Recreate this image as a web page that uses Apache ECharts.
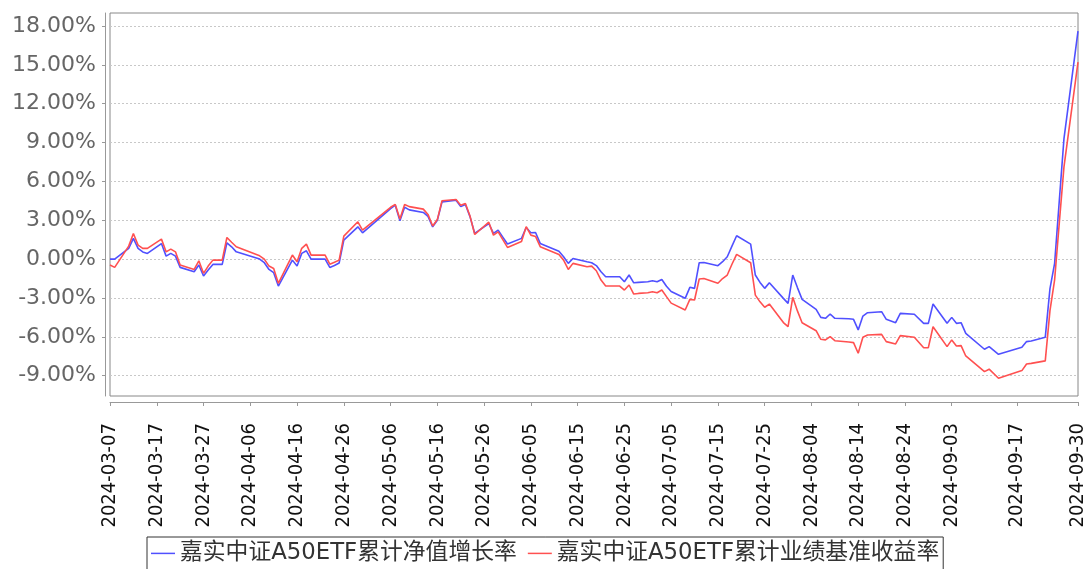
<!DOCTYPE html>
<html>
<head>
<meta charset="utf-8">
<script src="https://cdn.jsdelivr.net/npm/echarts@6/dist/echarts.min.js"></script>
<style>
  html, body { margin: 0; padding: 0; background: #fff; }
  #chart { width: 1088px; height: 569px; }
</style>
</head>
<body>
<div id="chart"></div>
<script>
// trading dates (plus quarter/half-year end)
var dates = [
  '2024-03-07','2024-03-08','2024-03-11','2024-03-12','2024-03-13','2024-03-14','2024-03-15',
  '2024-03-18','2024-03-19','2024-03-20','2024-03-21','2024-03-22','2024-03-25','2024-03-26',
  '2024-03-27','2024-03-28','2024-03-29','2024-03-31','2024-04-01','2024-04-02','2024-04-03',
  '2024-04-08','2024-04-09','2024-04-10','2024-04-11','2024-04-12','2024-04-15','2024-04-16',
  '2024-04-17','2024-04-18','2024-04-19','2024-04-22','2024-04-23','2024-04-24','2024-04-25',
  '2024-04-26','2024-04-29','2024-04-30','2024-05-06','2024-05-07','2024-05-08','2024-05-09',
  '2024-05-10','2024-05-13','2024-05-14','2024-05-15','2024-05-16','2024-05-17','2024-05-20',
  '2024-05-21','2024-05-22','2024-05-23','2024-05-24','2024-05-27','2024-05-28','2024-05-29',
  '2024-05-30','2024-05-31','2024-06-03','2024-06-04','2024-06-05','2024-06-06','2024-06-07',
  '2024-06-11','2024-06-12','2024-06-13','2024-06-14','2024-06-17','2024-06-18','2024-06-19',
  '2024-06-20','2024-06-21','2024-06-24','2024-06-25','2024-06-26','2024-06-27','2024-06-28',
  '2024-06-30','2024-07-01','2024-07-02','2024-07-03','2024-07-04','2024-07-05','2024-07-08',
  '2024-07-09','2024-07-10','2024-07-11','2024-07-12','2024-07-15','2024-07-16','2024-07-17',
  '2024-07-18','2024-07-19','2024-07-22','2024-07-23','2024-07-24','2024-07-25','2024-07-26',
  '2024-07-29','2024-07-30','2024-07-31','2024-08-01','2024-08-02','2024-08-05','2024-08-06',
  '2024-08-07','2024-08-08','2024-08-09','2024-08-12','2024-08-13','2024-08-14','2024-08-15',
  '2024-08-16','2024-08-19','2024-08-20','2024-08-22','2024-08-23','2024-08-26','2024-08-28',
  '2024-08-29','2024-08-30','2024-09-02','2024-09-03','2024-09-04','2024-09-05','2024-09-06',
  '2024-09-10','2024-09-11','2024-09-13','2024-09-18','2024-09-19','2024-09-20','2024-09-23',
  '2024-09-24','2024-09-25','2024-09-26','2024-09-27','2024-09-30'
];

// 嘉实中证A50ETF累计净值增长率 (%)
var navGrowth = [
  0.00, 0.00, 0.83, 1.60, 0.83, 0.55, 0.44,
  1.20, 0.23, 0.44, 0.23, -0.64, -0.98, -0.46,
  -1.31, -0.85, -0.41, -0.41, 1.26, 0.95, 0.56,
  0.00, -0.28, -0.80, -1.05, -2.08, -0.08, -0.54,
  0.44, 0.64, 0.00, 0.00, -0.64, -0.50, -0.30,
  1.46, 2.49, 2.03, 3.90, 4.16, 2.96, 4.00,
  3.80, 3.60, 3.30, 2.49, 3.00, 4.42, 4.55,
  4.05, 4.22, 3.26, 1.98, 2.75, 1.98, 2.24,
  1.70, 1.16, 1.60, 2.44, 2.03, 2.05, 1.21,
  0.60, 0.18, -0.33, 0.05, -0.21, -0.28, -0.50,
  -0.98, -1.36, -1.36, -1.75, -1.23, -1.83, -1.80,
  -1.75, -1.67, -1.75, -1.57, -2.10, -2.50, -3.03,
  -2.18, -2.26, -0.28, -0.26, -0.51, -0.20, 0.18,
  1.00, 1.80, 1.16, -1.23, -1.80, -2.26, -1.83,
  -3.03, -3.42, -1.23, -2.20, -3.11, -3.88, -4.50,
  -4.57, -4.24, -4.57, -4.60, -4.65, -5.47, -4.40,
  -4.14, -4.06, -4.65, -4.91, -4.19, -4.26, -4.96,
  -4.96, -3.47, -4.96, -4.50, -4.96, -4.91, -5.73,
  -6.96, -6.76, -7.35, -6.81, -6.37, -6.32, -6.04,
  -2.30, -0.33, 4.50, 9.30, 17.60
];

// 嘉实中证A50ETF累计业绩基准收益率 (%)
var benchGrowth = [
  -0.46, -0.64, 1.00, 1.98, 1.08, 0.83, 0.83,
  1.54, 0.56, 0.77, 0.56, -0.46, -0.80, -0.13,
  -1.10, -0.54, -0.08, -0.08, 1.67, 1.30, 0.95,
  0.25, 0.00, -0.54, -0.72, -1.87, 0.31, -0.21,
  0.83, 1.16, 0.31, 0.31, -0.39, -0.25, -0.08,
  1.77, 2.88, 2.24, 4.00, 4.22, 3.10, 4.22,
  4.05, 3.86, 3.45, 2.55, 3.05, 4.50, 4.60,
  4.15, 4.30, 3.30, 1.90, 2.85, 1.85, 2.10,
  1.50, 0.90, 1.36, 2.50, 1.85, 1.75, 0.96,
  0.35, -0.08, -0.80, -0.33, -0.59, -0.54, -0.90,
  -1.62, -2.08, -2.08, -2.39, -2.00, -2.70, -2.65,
  -2.60, -2.52, -2.60, -2.39, -2.90, -3.40, -3.93,
  -3.11, -3.16, -1.54, -1.50, -1.87, -1.50, -1.23,
  -0.40, 0.36, -0.28, -2.78, -3.30, -3.72, -3.47,
  -4.90, -5.22, -2.95, -4.00, -4.91, -5.53, -6.19,
  -6.24, -5.99, -6.30, -6.40, -6.45, -7.27, -6.04,
  -5.86, -5.81, -6.37, -6.55, -5.91, -6.04, -6.84,
  -6.84, -5.22, -6.76, -6.24, -6.71, -6.68, -7.48,
  -8.69, -8.50, -9.20, -8.61, -8.10, -8.05, -7.86,
  -4.00, -1.60, 2.80, 7.12, 15.20
];

var xTickDates = [
  '2024-03-07','2024-03-17','2024-03-27','2024-04-06','2024-04-16','2024-04-26',
  '2024-05-06','2024-05-16','2024-05-26','2024-06-05','2024-06-15','2024-06-25',
  '2024-07-05','2024-07-15','2024-07-25','2024-08-04','2024-08-14','2024-08-24',
  '2024-09-03','2024-09-17','2024-09-30'
];
var yTicks = [-9, -6, -3, 0, 3, 6, 9, 12, 15, 18];
var seriesNames = ['嘉实中证A50ETF累计净值增长率', '嘉实中证A50ETF累计业绩基准收益率'];

var chart = echarts.init(document.getElementById('chart'));
function toTs(d) { return echarts.time.parse(d).getTime(); }
var xTicks = xTickDates.map(toTs);

function pairs(vals) {
  return dates.map(function (d, i) { return [toTs(d), vals[i]]; });
}

var option = {
  animation: false,
  backgroundColor: '#fff',
  grid: {
    left: 110, right: 10, top: 13, bottom: 173,
    show: true, borderColor: '#888', borderWidth: 1,
    outerBoundsMode: 'none'
  },
  legend: {
    left: 147, top: 537,
    padding: [5, 4, 8, 4],
    itemGap: 11,
    itemWidth: 24, itemHeight: 1.5,
    icon: 'rect',
    borderColor: '#333', borderWidth: 1,
    textStyle: { fontSize: 22.8, color: '#333', fontFamily: '"DejaVu Sans", "Noto Sans CJK SC"' },
    data: seriesNames
  },
  xAxis: {
    type: 'value',
    min: xTicks[0],
    max: xTicks[xTicks.length - 1],
    offset: 6,
    axisLine: { show: true, onZero: false, lineStyle: { color: '#999' } },
    axisTick: { show: true, length: 4, customValues: xTicks, lineStyle: { color: '#999' } },
    splitLine: { show: false },
    axisLabel: {
      customValues: xTicks,
      rotate: 90,
      margin: 21,
      fontSize: 20,
      color: '#111',
      fontFamily: '"DejaVu Sans Condensed", "Liberation Sans Narrow", "DejaVu Sans"',
      formatter: function (v) { return echarts.time.format(v, '{yyyy}-{MM}-{dd}', false); }
    }
  },
  yAxis: {
    type: 'value',
    min: -10.57,
    max: 19.0,
    offset: 5,
    axisLine: { show: true, lineStyle: { color: '#999' } },
    axisTick: { show: true, length: 3, customValues: yTicks, lineStyle: { color: '#999' } },
    splitLine: { show: true, lineStyle: { color: '#c8c8c8', type: [2, 2], width: 1 } },
    axisLabel: {
      customValues: yTicks,
      margin: 9,
      fontSize: 22,
      color: '#666',
      fontFamily: '"DejaVu Sans"',
      formatter: function (v) { return v.toFixed(2) + '%'; }
    }
  },
  series: [
    {
      name: seriesNames[0], type: 'line', data: pairs(navGrowth),
      showSymbol: false, symbol: 'none',
      lineStyle: { color: '#5050ff', width: 1.6 }, itemStyle: { color: '#5050ff' }
    },
    {
      name: seriesNames[1], type: 'line', data: pairs(benchGrowth),
      showSymbol: false, symbol: 'none',
      lineStyle: { color: '#ff5050', width: 1.6 }, itemStyle: { color: '#ff5050' }
    }
  ]
};
chart.setOption(option);
</script>
</body>
</html>
